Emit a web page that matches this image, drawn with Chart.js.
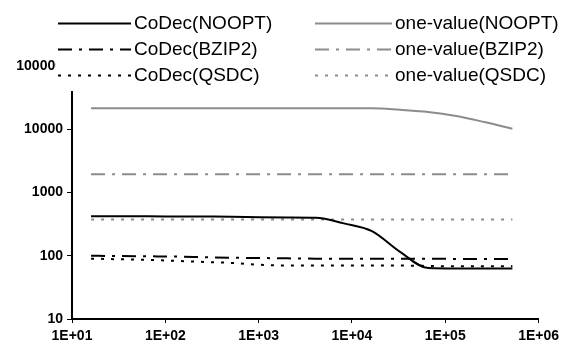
<!DOCTYPE html>
<html>
<head>
<meta charset="utf-8">
<script src="https://cdn.jsdelivr.net/npm/chart.js@4/dist/chart.umd.min.js"></script>
<style>
  body { margin: 0; background: #fff; }
  canvas { display: block; }
</style>
</head>
<body>
<canvas id="chart" width="564" height="345"></canvas>
<script>
"use strict";

// Data
const xValues = [16, 32, 64, 128, 256, 512, 1024, 2048, 4096, 8192, 16384, 32768, 65536, 131072, 262144, 524288];
const codecNoopt = [420, 420, 420, 418, 416, 414, 405, 402, 398, 325, 245, 115, 64, 63, 63, 63];
const codecBzip2 = [100, 99, 98, 97, 95, 93, 92, 91, 90, 90, 90, 90, 90, 89, 89, 89];
const codecQsdc = [90, 88, 86, 83, 80, 77, 72, 70, 70, 70, 70, 70, 69, 68, 68, 68];
const oneNoopt = [21500, 21500, 21500, 21500, 21500, 21500, 21500, 21500, 21500, 21500, 21500, 20300, 18800, 16200, 13000, 10200];
const oneBzip2 = [1950, 1950, 1950, 1950, 1950, 1950, 1950, 1950, 1950, 1950, 1950, 1950, 1950, 1950, 1950, 1950];
const oneQsdc = [375, 375, 375, 375, 375, 375, 375, 375, 375, 375, 375, 375, 375, 375, 375, 375];

const xTicks = [1e1, 1e2, 1e3, 1e4, 1e5, 1e6];
const yTicks = [10, 100, 1000, 10000, 100000];

const BLACK = '#000000';
const GRAY = '#8c8c8c';
const DASH_DOT = [14, 7, 3, 7];
const DOTTED = [3, 7];

function points(values) {
    return values.map((v, i) => ({ x: xValues[i], y: v }));
}

function series(label, values, color, dash) {
    return {
        label: label,
        data: points(values),
        borderColor: color,
        borderWidth: 2,
        borderDash: dash,
        pointRadius: 0,
        fill: false,
        cubicInterpolationMode: 'monotone'
    };
}

const data = {
    datasets: [
        series('CoDec(NOOPT)', codecNoopt, BLACK, []),
        series('CoDec(BZIP2)', codecBzip2, BLACK, DASH_DOT),
        series('CoDec(QSDC)', codecQsdc, BLACK, DOTTED),
        series('one-value(NOOPT)', oneNoopt, GRAY, []),
        series('one-value(BZIP2)', oneBzip2, GRAY, DASH_DOT),
        series('one-value(QSDC)', oneQsdc, GRAY, DOTTED)
    ]
};

// Legend drawn over the top of the plot, on a white box
const topLegend = {
    id: 'topLegend',
    afterDraw: function(chart) {
        const ctx = chart.ctx;
        ctx.save();
        ctx.fillStyle = '#ffffff';
        ctx.fillRect(56, 0, chart.width - 56, 91);

        const cols = [{ x0: 58, x1: 131, tx: 134 }, { x0: 315, x1: 392, tx: 395 }];
        const rows = [23, 49, 75];
        ctx.font = '19px "Liberation Sans", Arial, sans-serif';
        ctx.textBaseline = 'middle';
        ctx.textAlign = 'left';
        chart.data.datasets.forEach((ds, i) => {
            const col = cols[Math.floor(i / 3)];
            const y = rows[i % 3];
            ctx.strokeStyle = ds.borderColor;
            ctx.lineWidth = ds.borderWidth;
            ctx.setLineDash(ds.borderDash);
            ctx.beginPath();
            ctx.moveTo(col.x0, y + 0.5);
            ctx.lineTo(col.x1, y + 0.5);
            ctx.stroke();
            ctx.fillStyle = '#000';
            ctx.fillText(ds.label, col.tx, y + 1);
        });
        ctx.restore();
    }
};

const tickFont = { family: '"Liberation Sans", Arial, sans-serif', size: 14, weight: 'bold' };

const config = {
    type: 'line',
    data: data,
    options: {
        responsive: false,
        devicePixelRatio: 1,
        animation: false,
        layout: { padding: { top: 66, right: 22, left: 0, bottom: 0 } },
        plugins: {
            legend: { display: false },
            tooltip: { enabled: false }
        },
        scales: {
            x: {
                type: 'logarithmic',
                min: 10,
                max: 1e6,
                afterBuildTicks: s => { s.ticks = xTicks.map(v => ({ value: v })); },
                afterFit: s => { s.height = 26; },
                ticks: {
                    color: '#000',
                    font: tickFont,
                    padding: 5,
                    maxRotation: 0,
                    autoSkip: false,
                    callback: v => '1E+0' + Math.round(Math.log10(v))
                },
                grid: { drawOnChartArea: false, tickLength: 4, color: '#000' },
                border: { color: '#000', width: 2 }
            },
            y: {
                type: 'logarithmic',
                min: 10,
                max: 100000,
                afterBuildTicks: s => { s.ticks = yTicks.map(v => ({ value: v })); },
                afterFit: s => { s.width = 72; },
                ticks: {
                    color: '#000',
                    font: tickFont,
                    padding: 4,
                    autoSkip: false,
                    callback: v => String(v)
                },
                grid: { drawOnChartArea: false, tickLength: 5, color: '#000' },
                border: { color: '#000', width: 2 }
            }
        }
    },
    plugins: [topLegend]
};

const myChart = new Chart(document.getElementById('chart'), config);
</script>
</body>
</html>
